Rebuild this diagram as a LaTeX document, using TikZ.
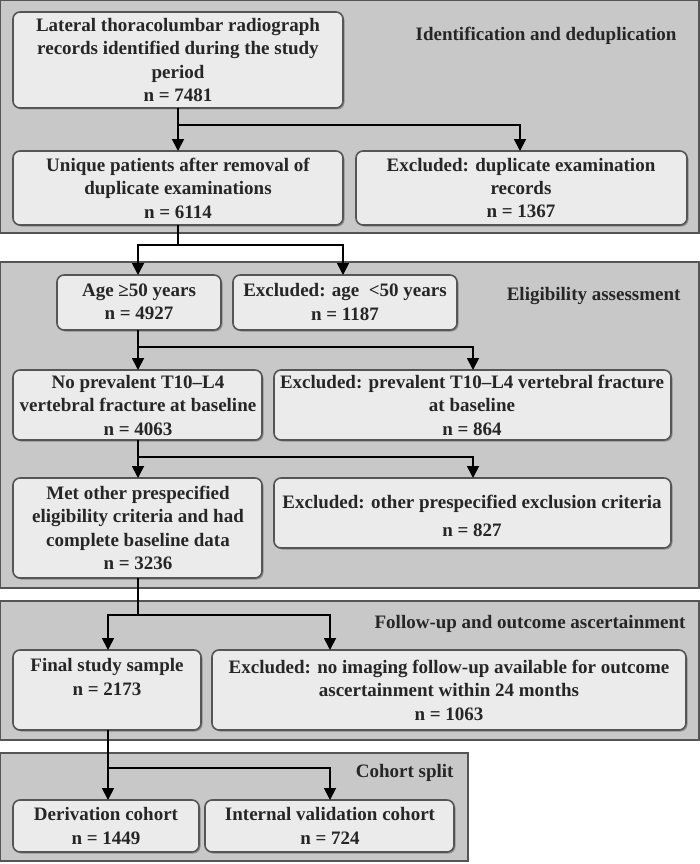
\documentclass[tikz,border=0pt]{standalone}
\usepackage{fontspec}
\setmainfont{Liberation Serif}
\usetikzlibrary{arrows.meta,shadows}
\definecolor{panel}{HTML}{C8C8C8}
\definecolor{boxf}{HTML}{EBEBEB}
\definecolor{edge}{HTML}{555555}
\begin{document}
\begin{tikzpicture}[x=1pt,y=-1pt,
 panelst/.style={fill=panel,draw=edge,line width=1.2pt},
 bx/.style={draw=edge,fill=boxf,line width=1.6pt,rounded corners=7pt,drop shadow={shadow xshift=1.5pt,shadow yshift=-1.5pt,fill=gray!70!black,opacity=0.5}},
 tx/.style={font=\fontsize{19}{23.5}\selectfont\bfseries,align=center,text=black!85},
 lab/.style={font=\fontsize{19}{23}\selectfont\bfseries,text=black!85},
 ar/.style={line width=1.8pt,-{Triangle[length=12pt,width=12pt]}},
 ln/.style={line width=1.8pt}]
\useasboundingbox (0,0) rectangle (700,864);
\fill[white] (0,0) rectangle (700,864);
\draw[panelst] (0,0) rectangle (699,233);
\draw[panelst] (0,262) rectangle (699,588);
\draw[panelst] (0,601) rectangle (699,740);
\draw[panelst] (0,753) rectangle (468,861);
\node[lab,anchor=east] (l1) at (680,36) {Identification and deduplication};
\node[lab,anchor=east] (l2) at (684,296) {Eligibility assessment};
\node[lab,anchor=east] (l3) at (689,624) {Follow-up and outcome ascertainment};
\node[lab,anchor=east] (l4) at (457,773) {Cohort split};
% boxes
\path[bx] (13,12) rectangle (343,108); \node[tx] (A) at (178,60) {Lateral thoracolumbar radiograph\\records identified during the study\\period\\n = 7481};
\path[bx] (13,151) rectangle (343,225); \node[tx] (B) at (178,188) {Unique patients after removal of\\duplicate examinations\\n = 6114};
\path[bx] (356,151) rectangle (687,225); \node[tx] (C) at (521,188) {Excluded: duplicate examination\\records\\n = 1367};
\path[bx] (57,275) rectangle (221,330); \node[tx] (D) at (139,302) {Age ≥50 years\\n = 4927};
\path[bx] (233,275) rectangle (457,330); \node[tx] (E) at (345,302) {Excluded: age \ <50 years\\n = 1187};
\path[bx] (13,370) rectangle (262,440); \node[tx] (F) at (138,405) {No prevalent T10–L4\\vertebral fracture at baseline\\n = 4063};
\path[bx] (274,370) rectangle (671,440); \node[tx] (G) at (472,405) {Excluded: prevalent T10–L4 vertebral fracture\\at baseline\\n = 864};
\path[bx] (13,478) rectangle (262,578); \node[tx] (H) at (138,528) {Met other prespecified\\eligibility criteria and had\\complete baseline data\\n = 3236};
\path[bx] (274,478) rectangle (671,548); \node[tx] (I) at (472,516) {Excluded: other prespecified exclusion criteria\\[5pt]n = 827};
\path[bx] (13,650) rectangle (201,730); \node[tx] (J) at (107,677) {Final study sample\\n = 2173};
\path[bx] (212,650) rectangle (686,730); \node[tx] (K) at (449,690) {Excluded: no imaging follow-up available for outcome\\ascertainment within 24 months\\n = 1063};
\path[bx] (13,800) rectangle (199,852); \node[tx] (L) at (106,826) {Derivation cohort\\n = 1449};
\path[bx] (205,800) rectangle (454,852); \node[tx] (M) at (330,826) {Internal validation cohort\\n = 724};
% connectors
\coordinate (a1) at (178,108); \coordinate (a2) at (178,125); \coordinate (a3) at (520,125);
\draw[ln] (a1) -- (a2); \draw[ar] (a2) -- (178,151); \draw[ar] (a2) -- (a3) -- (520,151);
\coordinate (b1) at (178,225); \coordinate (b2) at (178,245); \coordinate (b3) at (138,245); \coordinate (b4) at (343,245);
\draw[ln] (b1) -- (b2); \draw[ar] (b2) -- (b3) -- (138,275); \draw[ar] (b2) -- (b4) -- (343,275);
\coordinate (c1) at (138,330); \coordinate (c2) at (138,347); \coordinate (c3) at (473,347);
\draw[ln] (c1) -- (c2); \draw[ar] (c2) -- (138,370); \draw[ar] (c2) -- (c3) -- (473,370);
\coordinate (d1) at (138,440); \coordinate (d2) at (138,457); \coordinate (d3) at (473,457);
\draw[ln] (d1) -- (d2); \draw[ar] (d2) -- (138,478); \draw[ar] (d2) -- (d3) -- (473,478);
\coordinate (e1) at (138,578); \coordinate (e2) at (138,615); \coordinate (e3) at (108,615); \coordinate (e4) at (330,615);
\draw[ln] (e1) -- (e2); \draw[ar] (e2) -- (e3) -- (108,650); \draw[ar] (e2) -- (e4) -- (330,650);
\coordinate (f1) at (108,730); \coordinate (f2) at (108,768); \coordinate (f3) at (330,768);
\draw[ln] (f1) -- (f2); \draw[ar] (f2) -- (108,800); \draw[ar] (f2) -- (f3) -- (330,800);
\end{tikzpicture}
\end{document}
